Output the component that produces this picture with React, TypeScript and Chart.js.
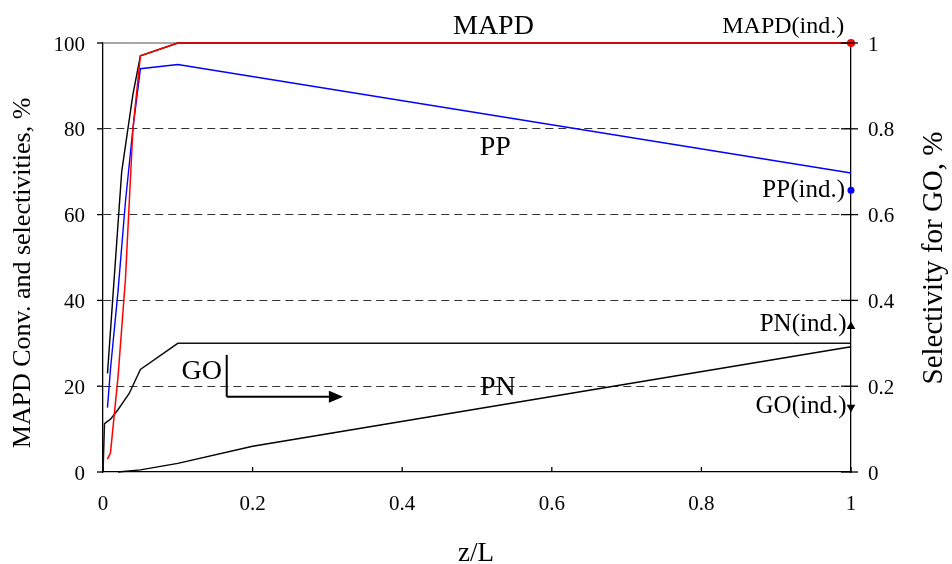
import React, { useEffect, useRef } from "react";
import { Chart, registerables } from "chart.js";

Chart.register(...registerables);

const FONT = '"Liberation Serif", "Times New Roman", serif';

// Axis ticks
const xTicks = [0, 0.2, 0.4, 0.6, 0.8, 1];
const yTicks = [0, 20, 40, 60, 80, 100];
const y2Ticks = [0, 0.2, 0.4, 0.6, 0.8, 1];

// MAPD conversion (red), %
const mapdZ = [0.006, 0.01, 0.02, 0.03, 0.04, 0.05, 0.1, 1];
const mapdConv = [3, 4.5, 22, 45, 80, 97, 100, 100];

// Steep black curve, %
const blkZ = [0.006, 0.025, 0.04, 0.05, 0.1, 1];
const blkVals = [23, 70, 88, 97, 100, 100];

// PP selectivity (blue), %
const ppZ = [0.006, 0.01, 0.02, 0.03, 0.04, 0.05, 0.1, 1];
const ppSel = [15, 24, 42, 63, 80, 94, 95, 69.7];

// GO selectivity (right axis)
const goZ = [0, 0.002, 0.01, 0.02, 0.035, 0.05, 0.1, 1];
const goSel = [0, 0.113, 0.123, 0.145, 0.183, 0.239, 0.3, 0.3];

// PN selectivity, %
const pnZ = [0.02, 0.05, 0.1, 0.2, 1];
const pnSel = [0, 0.5, 2, 6, 29.2];

// Individual (ind.) values at z/L = 1
const indZ = 1;
const mapdInd = 100;
const ppInd = 65.7;
const pnInd = 0.339;
const goInd = 0.151;

const pts = (xs: number[], ys: number[]) => xs.map((x, i) => ({ x, y: ys[i] }));

const fmt = (v: number) => String(Number(Number(v).toFixed(1)));

const overlay = {
  id: "overlay",
  beforeDatasetsDraw(chart: any) {
    const { ctx, chartArea: ca } = chart;
    ctx.save();
    ctx.strokeStyle = "#8a8a8a";
    ctx.lineWidth = 1.5;
    ctx.beginPath();
    ctx.moveTo(ca.left, ca.top);
    ctx.lineTo(ca.right, ca.top);
    ctx.stroke();
    ctx.restore();
  },
  afterDraw(chart: any) {
    const { ctx, chartArea: ca, scales } = chart;
    const xs = scales.x, ys = scales.y, y2s = scales.y2;
    const line = (a: number, b: number, c: number, d: number) => {
      ctx.beginPath();
      ctx.moveTo(a, b);
      ctx.lineTo(c, d);
      ctx.stroke();
    };
    ctx.save();
    ctx.strokeStyle = "#000";
    ctx.lineWidth = 1.3;
    yTicks.forEach((v) => {
      const p = ys.getPixelForValue(v);
      line(ca.left - 6, p, ca.left, p);
    });
    y2Ticks.forEach((v) => {
      const p = y2s.getPixelForValue(v);
      line(ca.right - 10, p, ca.right + 7, p);
    });
    xTicks.forEach((v) => {
      const p = xs.getPixelForValue(v);
      line(p, ca.bottom, p, ca.bottom - 5);
    });

    // GO arrow
    ctx.lineWidth = 2;
    const ax = xs.getPixelForValue(0.1654);
    const aTop = ys.getPixelForValue(27.3);
    const aBot = ys.getPixelForValue(17.55);
    const tip = xs.getPixelForValue(0.321);
    const base = xs.getPixelForValue(0.302);
    line(ax, aTop, ax, aBot);
    line(ax, aBot, base, aBot);
    ctx.fillStyle = "#000";
    ctx.beginPath();
    ctx.moveTo(tip, aBot);
    ctx.lineTo(base, aBot - 6);
    ctx.lineTo(base, aBot + 6);
    ctx.closePath();
    ctx.fill();

    // Labels
    ctx.fillStyle = "#000";
    ctx.textBaseline = "middle";
    const text = (s: string, zx: number, vy: number, size: number, align: CanvasTextAlign) => {
      ctx.font = `${size}px ${FONT}`;
      ctx.textAlign = align;
      ctx.fillText(s, xs.getPixelForValue(zx), ys.getPixelForValue(vy));
    };
    text("MAPD", 0.522, 103.9, 28, "center");
    text("PP", 0.5245, 75.6, 28, "center");
    text("PN", 0.528, 19.7, 28, "center");
    text("GO", 0.132, 23.3, 28, "center");
    text("MAPD(ind.)", 0.991, 103.7, 24, "right");
    text("PP(ind.)", 0.992, 65.7, 25, "right");
    text("PN(ind.)", 0.994, 34.3, 25, "right");
    text("GO(ind.)", 0.994, 15.2, 25, "right");

    // Axis titles
    ctx.textAlign = "center";
    ctx.font = `26px ${FONT}`;
    ctx.save();
    ctx.translate(23, 273);
    ctx.rotate(-Math.PI / 2);
    ctx.fillText("MAPD Conv. and selectivities, %", 0, 0);
    ctx.restore();
    ctx.font = `29px ${FONT}`;
    ctx.save();
    ctx.translate(934, 258);
    ctx.rotate(-Math.PI / 2);
    ctx.fillText("Selectivity for GO, %", 0, 0);
    ctx.restore();
    ctx.font = `27px ${FONT}`;
    ctx.fillText("z/L", 476, 554);
    ctx.restore();
  },
};

export default function App() {
  const ref = useRef<HTMLCanvasElement | null>(null);
  useEffect(() => {
    if (!ref.current) return;
    const lineDs = (label: string, data: any[], color: string, width: number, yAxisID = "y") => ({
      label,
      data,
      borderColor: color,
      backgroundColor: color,
      borderWidth: width,
      pointRadius: 0,
      tension: 0,
      yAxisID,
      clip: false as any,
    });
    const chart = new Chart(ref.current, {
      type: "line",
      data: {
        datasets: [
          {
            label: "MAPD(ind.)",
            data: [{ x: indZ, y: mapdInd }],
            showLine: false,
            pointRadius: 4,
            pointBackgroundColor: "#ff0000",
            pointBorderColor: "#ff0000",
            pointBorderWidth: 0,
            yAxisID: "y",
            clip: false as any,
          },
          {
            label: "PP(ind.)",
            data: [{ x: indZ, y: ppInd }],
            showLine: false,
            pointRadius: 3.5,
            pointBackgroundColor: "#0000ff",
            pointBorderColor: "#0000ff",
            pointBorderWidth: 0,
            yAxisID: "y",
            clip: false as any,
          },
          {
            label: "PN(ind.)",
            data: [{ x: indZ, y: pnInd }],
            showLine: false,
            pointStyle: "triangle",
            pointRadius: 5,
            pointBackgroundColor: "#000",
            pointBorderColor: "#000",
            pointBorderWidth: 0,
            yAxisID: "y2",
            clip: false as any,
          },
          {
            label: "GO(ind.)",
            data: [{ x: indZ, y: goInd }],
            showLine: false,
            pointStyle: "triangle",
            pointRotation: 180,
            pointRadius: 5,
            pointBackgroundColor: "#000",
            pointBorderColor: "#000",
            pointBorderWidth: 0,
            yAxisID: "y2",
            clip: false as any,
          },
          lineDs("MAPD conversion", pts(mapdZ, mapdConv), "#ff0000", 1.5),
          lineDs("PP", pts(ppZ, ppSel), "#0000ff", 1.4),
          lineDs("MAPD (black)", pts(blkZ, blkVals), "#000000", 1.4),
          lineDs("GO", pts(goZ, goSel), "#111111", 1.5, "y2"),
          lineDs("PN", pts(pnZ, pnSel), "#000000", 1.4),
        ] as any,
      },
      options: {
        animation: false,
        responsive: false,
        devicePixelRatio: 1,
        layout: { padding: { top: 43, left: 0, right: 0, bottom: 0 } },
        plugins: { legend: { display: false }, tooltip: { enabled: false } },
        scales: {
          x: {
            type: "linear",
            position: "bottom",
            min: 0,
            max: 1,
            afterBuildTicks: (s: any) => {
              s.ticks = xTicks.map((v) => ({ value: v }));
            },
            ticks: {
              callback: (v: any) => fmt(v),
              font: { family: FONT, size: 21 },
              color: "#000",
              padding: 20,
              maxRotation: 0,
            },
            grid: { display: true, drawOnChartArea: false, drawTicks: false },
            border: { display: true, color: "#000", width: 1.3 },
            afterFit: (s: any) => {
              s.height = 92;
            },
          },
          y: {
            type: "linear",
            position: "left",
            min: 0,
            max: 100,
            afterBuildTicks: (s: any) => {
              s.ticks = yTicks.map((v) => ({ value: v }));
            },
            ticks: {
              callback: (v: any) => fmt(v),
              font: { family: FONT, size: 21 },
              color: "#000",
              padding: 18,
              labelOffset: 2,
            },
            grid: {
              drawTicks: false,
              color: (c: any) => (c.tick && (c.tick.value === 0 || c.tick.value === 100) ? "rgba(0,0,0,0)" : "#333"),
              lineWidth: 1,
            },
            border: { display: true, color: "#000", width: 1.3, dash: [8, 5] },
            afterFit: (s: any) => {
              s.width = 103;
            },
          },
          y2: {
            type: "linear",
            position: "right",
            min: 0,
            max: 1,
            afterBuildTicks: (s: any) => {
              s.ticks = y2Ticks.map((v) => ({ value: v }));
            },
            ticks: {
              callback: (v: any) => fmt(v),
              font: { family: FONT, size: 21 },
              color: "#000",
              padding: 17,
              labelOffset: 2,
            },
            grid: { drawOnChartArea: false, drawTicks: false },
            border: { display: true, color: "#000", width: 1.3 },
            afterFit: (s: any) => {
              s.width = 101;
            },
          },
        },
      } as any,
      plugins: [overlay],
    });
    return () => chart.destroy();
  }, []);
  return (
    <div style={{ position: "absolute", left: 0, top: 0, width: 952, height: 564, background: "#fff" }}>
      <canvas ref={ref} width={952} height={564} style={{ display: "block" }} />
    </div>
  );
}
